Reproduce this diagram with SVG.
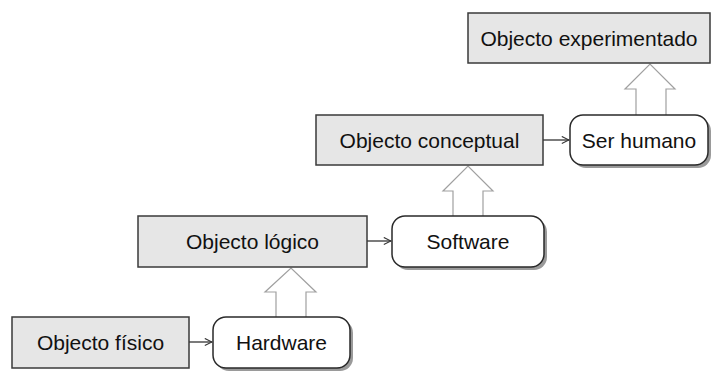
<svg xmlns="http://www.w3.org/2000/svg" width="715" height="371" viewBox="0 0 715 371">
<defs>
<marker id="open" viewBox="0 0 10 10" refX="9" refY="5" markerWidth="9" markerHeight="9" markerUnits="userSpaceOnUse" orient="auto">
<path d="M1,1 L9,5 L1,9" fill="none" stroke="#333" stroke-width="1.2"/>
</marker>
</defs>
<style>
.box{fill:#e6e6e6;stroke:#3a3a3a;stroke-width:1.5}
.rnd{fill:#fff;stroke:#2a2a2a;stroke-width:1.5}
.shadow{fill:#9a9a9a}
.t{font-family:"Liberation Sans",Arial,sans-serif;font-size:21px;fill:#111;text-anchor:middle}
.blk{fill:#fff;stroke:#a0a0a0;stroke-width:1.2}
.conn{stroke:#333;stroke-width:1.3;fill:none}
</style>
<g id="connectors">
<line class="conn" x1="189" y1="342" x2="212" y2="342" marker-end="url(#open)"/>
<line class="conn" x1="367" y1="241" x2="391" y2="241" marker-end="url(#open)"/>
<line class="conn" x1="543" y1="140" x2="569" y2="140" marker-end="url(#open)"/>
<path class="blk" d="M276,317 L276,292 L265,292 L291,268 L316,292 L306,292 L306,317"/>
<path class="blk" d="M453,216 L453,191 L443,191 L468,166 L493,191 L483,191 L483,216"/>
<path class="blk" d="M636,115 L636,89 L625,89 L650,64 L675,89 L666,89 L666,115"/>
</g>
<g id="n-fisico">
<rect class="box" x="12" y="317" width="177" height="51"/>
<text class="t" x="100.5" y="350">Objecto físico</text>
</g>
<g id="n-hardware">
<rect class="shadow" x="216" y="320" width="137" height="51" rx="13"/>
<rect class="rnd" x="213" y="317" width="137" height="51" rx="13"/>
<text class="t" x="281.5" y="350">Hardware</text>
</g>
<g id="n-logico">
<rect class="box" x="138" y="216" width="229" height="51"/>
<text class="t" x="252.5" y="249">Objecto lógico</text>
</g>
<g id="n-software">
<rect class="shadow" x="395" y="219" width="152" height="51" rx="13"/>
<rect class="rnd" x="392" y="216" width="152" height="51" rx="13"/>
<text class="t" x="468" y="249">Software</text>
</g>
<g id="n-conceptual">
<rect class="box" x="316" y="115" width="227" height="50"/>
<text class="t" x="429.5" y="148">Objecto conceptual</text>
</g>
<g id="n-humano">
<rect class="shadow" x="573" y="118" width="138" height="50" rx="13"/>
<rect class="rnd" x="570" y="115" width="138" height="50" rx="13"/>
<text class="t" x="639" y="148">Ser humano</text>
</g>
<g id="n-experimentado">
<rect class="box" x="468" y="13" width="242" height="50"/>
<text class="t" x="589" y="46">Objecto experimentado</text>
</g>
</svg>
